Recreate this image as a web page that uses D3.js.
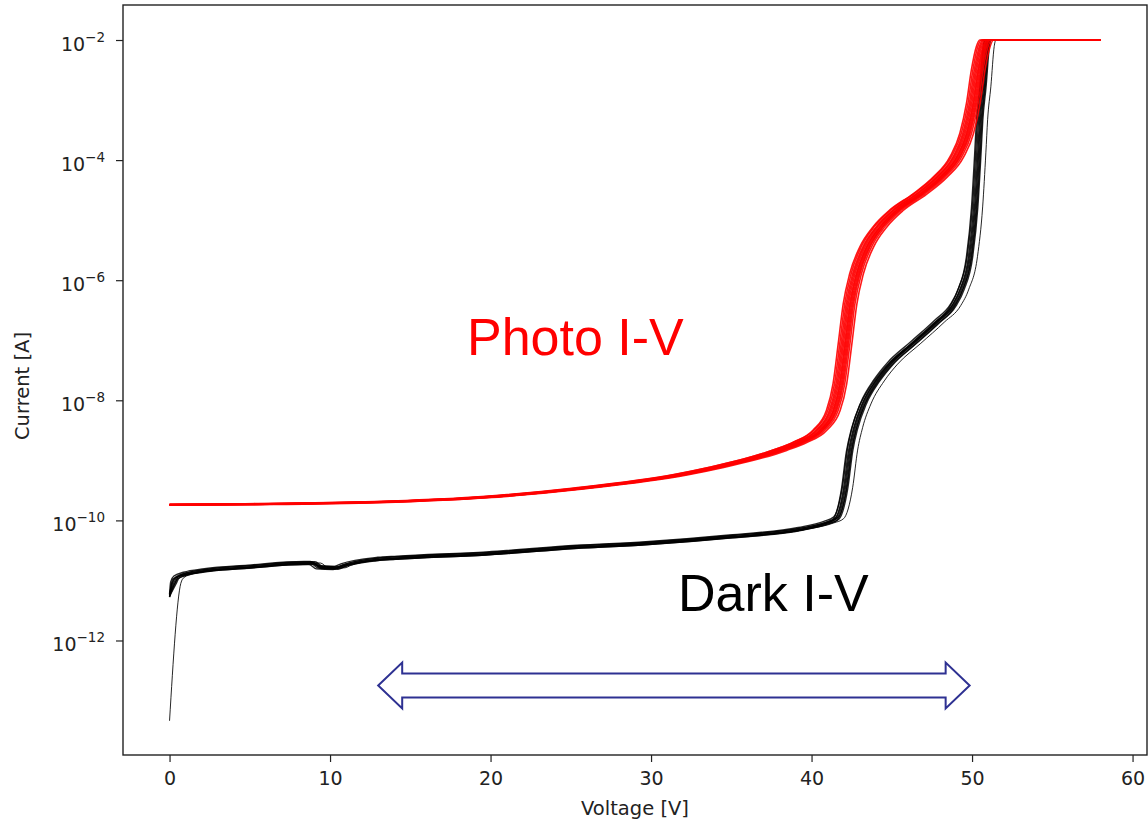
<!DOCTYPE html>
<html>
<head>
<meta charset="utf-8">
<script src="https://cdn.jsdelivr.net/npm/d3@7"></script>
<style>
  html, body { margin: 0; padding: 0; background: #fff; }
  svg { display: block; }
</style>
</head>
<body>
<svg id="chart" width="1148" height="826"></svg>
<script>
// Dark I-V sweep (reference run): voltage [V] and current [A]
const darkV = [0, 0.2, 0.4, 1.0, 2.3, 5.0, 8.5, 8.9, 9.35, 10.4, 10.8, 13.1, 14.3, 19.9, 25.5, 29.8, 35.0, 39.3, 40.9, 41.5,
  42.06, 42.37, 42.68, 43.2, 44.03, 44.86, 46.31, 47.77, 48.8, 49.3, 49.84, 50.16, 50.36, 50.47, 50.67, 50.88, 50.98, 57.4];
const darkI = [5.6e-12, 8.9e-12, 1.12e-11, 1.29e-11, 1.48e-11, 1.70e-11, 1.95e-11, 1.95e-11, 1.66e-11, 1.62e-11, 1.78e-11,
  2.29e-11, 2.4e-11, 2.82e-11, 3.63e-11, 4.17e-11, 5.4e-11, 7.2e-11, 9.1e-11, 1.07e-10,
  3.5e-10, 1.48e-9, 3.5e-9, 8.7e-9, 2.1e-8, 4.0e-8, 8.9e-8, 2.0e-7, 3.8e-7, 7.1e-7, 2.5e-6, 1.66e-5, 1.32e-4, 4.7e-4,
  1.66e-3, 7.8e-3, 1e-2, 1e-2];

// Photo I-V sweep (reference run)
const photoV = [0, 5.0, 13.1, 19.3, 25.5, 31.8, 34.0, 36.0, 38.0, 39.25, 40.5, 41.33, 41.74, 42.06, 42.37, 42.78, 43.41,
  44.24, 45.28, 46.73, 47.98, 49.02, 49.64, 50.05, 50.36, 50.67, 50.88, 58.0];
const photoI = [1.82e-10, 1.86e-10, 2.02e-10, 2.4e-10, 3.4e-10, 5.75e-10, 7.6e-10, 1.02e-9, 1.48e-9, 2.0e-9, 3.2e-9, 6.8e-9,
  1.9e-8, 8.7e-8, 4.0e-7, 1.29e-6, 3.6e-6, 7.8e-6, 1.48e-5, 2.75e-5, 5.2e-5, 1.13e-4, 2.8e-4, 8.8e-4, 3.2e-3, 7.8e-3,
  1e-2, 1e-2];

// Instrument current compliance [A]
const complianceI = 1e-2;

// Per-device breakdown offsets [V] and current spread of the measured runs
const darkShiftV = [-0.2, -0.13, -0.07, 0, 0.05, 0.1, 0.16, 0.2, 0.5];
const darkGain   = [0.94, 1.06, 0.97, 1.03, 1.0, 0.95, 1.05, 0.98, 1.0];
const photoShiftV = [-0.4, -0.3, -0.22, -0.14, -0.07, 0, 0.06, 0.12, 0.18, 0.25, 0.33, 0.45];
const photoGain   = [1.0, 1.02, 0.99, 1.01, 1.0, 0.98, 1.01, 1.0, 0.99, 1.02, 1.0, 0.99];

// One dark run starts from the open-circuit floor before the first step
const darkFloorV = [0];
const darkFloorI = [4.6e-14];

// Axis ticks and labels
const xTicks = [0, 10, 20, 30, 40, 50, 60];
const yTickExp = [-2, -4, -6, -8, -10, -12];
const xLabel = "Voltage [V]";
const yLabel = "Current [A]";

// Annotations
const photoLabel = "Photo I-V";
const darkLabel = "Dark I-V";
const rangeArrowV = [13.0, 49.85];
const rangeArrowI = 1.78e-13;

const svg = d3.select("#chart");
const m = { left: 123, top: 5, right: 1147, bottom: 755 };

const x = d3.scaleLinear().domain([-2.9, 60.9]).range([m.left, m.right]);
const y = d3.scaleLog().domain([Math.pow(10, -13.907), Math.pow(10, -1.417)]).range([m.bottom, m.top]);

svg.append("defs").append("clipPath").attr("id", "plotClip")
  .append("rect").attr("x", m.left).attr("y", m.top)
  .attr("width", m.right - m.left).attr("height", m.bottom - m.top);

const line = d3.line()
  .x(d => x(d[0]))
  .y(d => y(d[1]))
  .curve(d3.curveMonotoneX);

// One run of a device: the sweep is shifted along the voltage axis, but it still
// starts and stops at the same sweep limits, and never exceeds the compliance.
function run(vs, is, shift, gain) {
  const n = vs.length;
  const cur = i => (i >= complianceI ? complianceI : i * gain);
  const first = [vs[0], cur(is[0])];
  const last = [vs[n - 1], cur(is[n - 1])];
  const mid = vs.slice(1, n - 1)
    .map((v, j) => [v + shift, cur(is[j + 1])])
    .filter(p => p[0] > first[0] && p[0] < last[0]);
  return [first].concat(mid, [last]);
}

const plot = svg.append("g").attr("clip-path", "url(#plotClip)");

// Dark runs
darkShiftV.forEach((s, k) => {
  let pts = run(darkV, darkI, s, darkGain[k]);
  const isOutlier = k === darkShiftV.length - 1;
  if (isOutlier) {
    pts = darkFloorV.map((v, j) => [v, darkFloorI[j]]).concat(pts.slice(1));
  }
  plot.append("path")
    .attr("d", line(pts))
    .attr("fill", "none")
    .attr("stroke", "#000")
    .attr("stroke-opacity", 0.85)
    .attr("stroke-width", isOutlier ? 1.0 : 1.4);
});

// Photo runs
photoShiftV.forEach((s, k) => {
  const pts = run(photoV, photoI, s, photoGain[k]);
  plot.append("path")
    .attr("d", line(pts))
    .attr("fill", "none")
    .attr("stroke", "#ff0000")
    .attr("stroke-opacity", 0.9)
    .attr("stroke-width", 1.6);
});

// Axes
const tickFont = "'DejaVu Sans', sans-serif";
const xAxis = svg.append("g")
  .attr("transform", `translate(0,${m.bottom})`)
  .call(d3.axisBottom(x).tickValues(xTicks).tickSize(7).tickPadding(10).tickFormat(d3.format("d")));
xAxis.select(".domain").remove();
xAxis.selectAll("text").attr("font-family", tickFont).attr("font-size", 19).attr("fill", "#222");
xAxis.selectAll("line").attr("stroke", "#222").attr("stroke-width", 1.2);

const yAxis = svg.append("g")
  .attr("transform", `translate(${m.left},0)`)
  .call(d3.axisLeft(y).tickValues(yTickExp.map(e => Math.pow(10, e))).tickSize(7).tickFormat(""));
yAxis.select(".domain").remove();
yAxis.selectAll("line").attr("stroke", "#222").attr("stroke-width", 1.2);
yAxis.selectAll(".tick").each(function(d, i) {
  const t = d3.select(this).append("text")
    .attr("x", -18).attr("y", 10)
    .attr("text-anchor", "end")
    .attr("font-family", tickFont)
    .attr("fill", "#222");
  t.append("tspan").attr("font-size", 19).text("10");
  t.append("tspan").attr("font-size", 13.5).attr("dy", -9).text("\u2212" + Math.abs(yTickExp[i]));
});

// Frame
svg.append("rect")
  .attr("x", m.left).attr("y", m.top)
  .attr("width", m.right - m.left).attr("height", m.bottom - m.top)
  .attr("fill", "none").attr("stroke", "#222").attr("stroke-width", 1.4);

// Axis titles
svg.append("text")
  .attr("x", (m.left + m.right) / 2).attr("y", 815)
  .attr("text-anchor", "middle")
  .attr("font-family", tickFont).attr("font-size", 19.5).attr("fill", "#222")
  .text(xLabel);
svg.append("text")
  .attr("transform", `translate(29,${(m.top + m.bottom) / 2 + 6}) rotate(-90)`)
  .attr("text-anchor", "middle")
  .attr("font-family", tickFont).attr("font-size", 19.5).attr("fill", "#222")
  .text(yLabel);

// Curve annotations
svg.append("text")
  .attr("x", 467).attr("y", 355)
  .attr("font-family", "'Liberation Sans', Arial, sans-serif").attr("font-size", 52)
  .attr("fill", "#ff0000")
  .text(photoLabel);
svg.append("text")
  .attr("x", 678).attr("y", 611)
  .attr("font-family", "'Liberation Sans', Arial, sans-serif").attr("font-size", 52)
  .attr("fill", "#000")
  .text(darkLabel);

// Operating-range double arrow
const ax0 = x(rangeArrowV[0]), ax1 = x(rangeArrowV[1]), ay = y(rangeArrowI);
const headLen = 24, headHalf = 23, shaftHalf = 12;
const arrowPts = [
  [ax0, ay], [ax0 + headLen, ay - headHalf], [ax0 + headLen, ay - shaftHalf],
  [ax1 - headLen, ay - shaftHalf], [ax1 - headLen, ay - headHalf], [ax1, ay],
  [ax1 - headLen, ay + headHalf], [ax1 - headLen, ay + shaftHalf],
  [ax0 + headLen, ay + shaftHalf], [ax0 + headLen, ay + headHalf]
];
svg.append("polygon")
  .attr("points", arrowPts.map(p => p.join(",")).join(" "))
  .attr("fill", "#fff")
  .attr("stroke", "#2e3192")
  .attr("stroke-width", 2);
</script>
</body>
</html>
